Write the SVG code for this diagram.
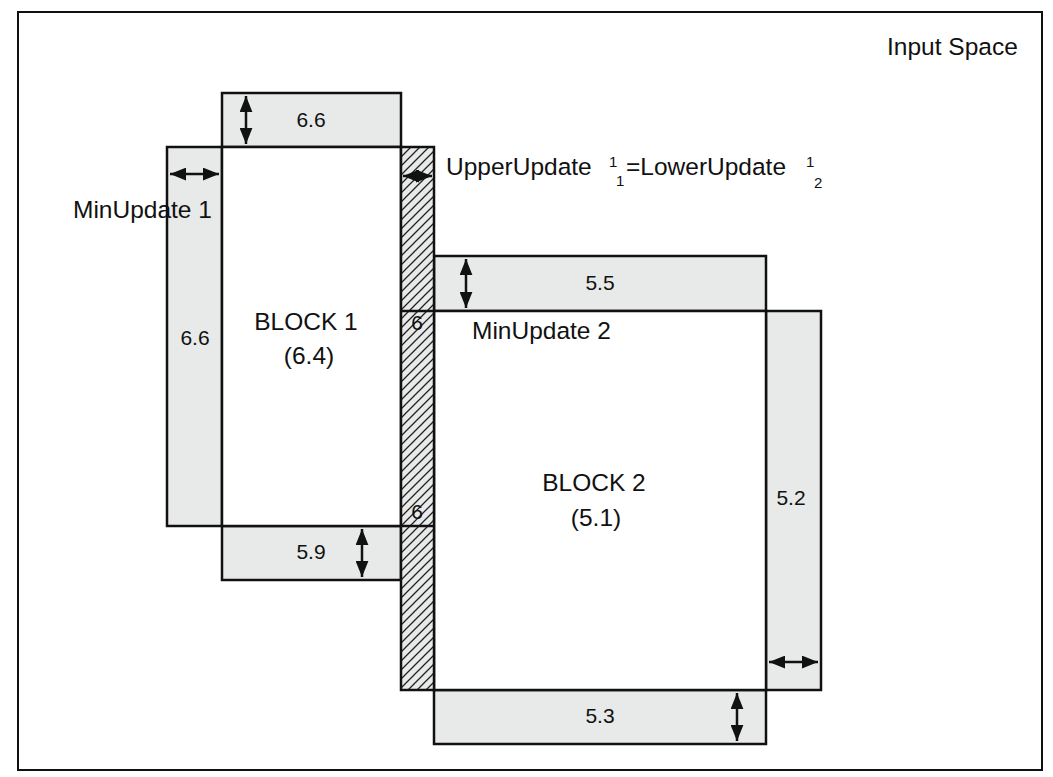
<svg xmlns="http://www.w3.org/2000/svg" width="1053" height="777" viewBox="0 0 1053 777">
<defs>
<style>
.frame{fill:#fff;stroke:#111;stroke-width:2}
.strip{fill:#e8e9e9;stroke:#111;stroke-width:2.5}
.blk{fill:#fff;stroke:#111;stroke-width:2.5}
.ln{stroke:#111;stroke-width:2.5;fill:none}
.arr{stroke:#111;stroke-width:2.5;fill:none;marker-start:url(#ah);marker-end:url(#ah)}
text{font-family:"Liberation Sans",Arial,sans-serif;fill:#111}
.lbl{font-size:24.5px}
.num{font-size:21px;text-anchor:middle}
.big{font-size:24.5px;text-anchor:middle}
.sm{font-size:15px}
</style>
<marker id="ah" viewBox="0 0 10 8" refX="10" refY="4" markerWidth="6.5" markerHeight="5.2" orient="auto-start-reverse" markerUnits="strokeWidth">
<path d="M0,0 L10,4 L0,8 Z" fill="#111"/>
</marker>
<pattern id="hatch" patternUnits="userSpaceOnUse" width="9" height="9">
<rect width="9" height="9" fill="#e8e9e9"/>
<path d="M-1,1 L1,-1 M0,9 L9,0 M8,10 L10,8" stroke="#222" stroke-width="1.3"/>
</pattern>
</defs>
<rect class="frame" x="18" y="12" width="1024" height="758"/>
<text class="lbl" x="887" y="55">Input Space</text>

<g id="block1">
<rect class="strip" x="222" y="93" width="179" height="54"/>
<rect class="strip" x="167" y="147" width="55" height="379"/>
<rect class="strip" x="222" y="526" width="179" height="54"/>
<rect class="blk" x="222" y="147" width="179" height="379"/>
<text class="big" x="306" y="330">BLOCK 1</text>
<text class="big" x="309" y="364">(6.4)</text>
<text class="num" x="311" y="127">6.6</text>
<text class="num" x="195" y="345">6.6</text>
<text class="num" x="311" y="559">5.9</text>
</g>

<g id="block2">
<rect class="strip" x="434" y="256" width="332" height="55"/>
<rect class="strip" x="766" y="311" width="55" height="379"/>
<rect class="strip" x="434" y="690" width="332" height="54"/>
<rect class="blk" x="434" y="311" width="332" height="379"/>
<text class="big" x="594" y="491">BLOCK 2</text>
<text class="big" x="596" y="526">(5.1)</text>
<text class="num" x="600" y="290">5.5</text>
<text class="num" x="791" y="505">5.2</text>
<text class="num" x="600" y="723">5.3</text>
</g>

<g id="overlap">
<rect x="401" y="147" width="33" height="543" fill="url(#hatch)" stroke="#111" stroke-width="2.5"/>
<line class="ln" x1="401" y1="311" x2="434" y2="311"/>
<line class="ln" x1="401" y1="526" x2="434" y2="526"/>
<text class="num" x="417" y="330">6</text>
<text class="num" x="417" y="519">6</text>
</g>

<g id="labels">
<text class="lbl" x="73" y="218">MinUpdate 1</text>
<text class="lbl" x="472" y="339">MinUpdate 2</text>
<text class="lbl" x="446" y="175">UpperUpdate</text>
<text class="sm" x="609" y="167">1</text>
<text class="sm" x="616" y="186">1</text>
<text class="lbl" x="626" y="175">=LowerUpdate</text>
<text class="sm" x="806" y="167">1</text>
<text class="sm" x="814" y="188">2</text>
</g>

<g id="connectors">
<line class="arr" x1="246" y1="96" x2="246" y2="144"/>
<line class="arr" x1="170" y1="174" x2="219" y2="174"/>
<line class="arr" x1="403" y1="176" x2="432" y2="176"/>
<line class="arr" x1="466" y1="259" x2="466" y2="308"/>
<line class="arr" x1="362" y1="529" x2="362" y2="577"/>
<line class="arr" x1="769" y1="662" x2="818" y2="662"/>
<line class="arr" x1="737" y1="693" x2="737" y2="741"/>
</g>
</svg>
